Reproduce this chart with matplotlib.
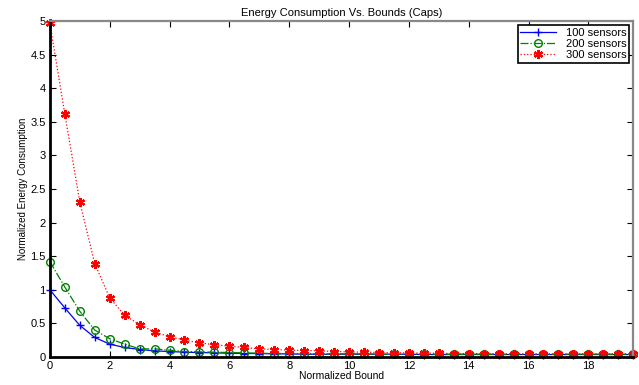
import numpy as np
import matplotlib
matplotlib.use("Agg")
import matplotlib.pyplot as plt

plt.rcParams['font.family'] = ['Liberation Sans', 'DejaVu Sans']

# datos
bound = np.arange(0, 20, 0.5)
e100 = [1.00, 0.73, 0.47, 0.29, 0.19, 0.14, 0.11, 0.09, 0.08, 0.07,
        0.065, 0.06, 0.055, 0.05, 0.05, 0.045, 0.045, 0.04, 0.04, 0.04,
        0.04, 0.04, 0.04, 0.04, 0.04, 0.035, 0.035, 0.035, 0.035, 0.035,
        0.035, 0.035, 0.035, 0.035, 0.035, 0.035, 0.035, 0.035, 0.035, 0.035]
e200 = [1.42, 1.04, 0.68, 0.40, 0.27, 0.19, 0.12, 0.12, 0.10, 0.08,
        0.075, 0.07, 0.065, 0.06, 0.055, 0.05, 0.05, 0.05, 0.045, 0.045,
        0.045, 0.045, 0.04, 0.04, 0.04, 0.04, 0.04, 0.04, 0.04, 0.04,
        0.04, 0.04, 0.04, 0.04, 0.04, 0.04, 0.04, 0.04, 0.04, 0.04]
e300 = [4.97, 3.62, 2.31, 1.39, 0.88, 0.62, 0.48, 0.37, 0.30, 0.25,
        0.21, 0.18, 0.16, 0.14, 0.12, 0.11, 0.10, 0.095, 0.09, 0.08,
        0.075, 0.07, 0.065, 0.06, 0.06, 0.055, 0.055, 0.05, 0.05, 0.05,
        0.045, 0.045, 0.045, 0.045, 0.045, 0.045, 0.045, 0.045, 0.045, 0.045]
etiquetas = ["100 sensors", "200 sensors", "300 sensors"]

fig = plt.figure(figsize=(6.39, 3.85), dpi=100)
ax = fig.add_axes([0.078, 0.073, 0.913, 0.872])

ax.plot(bound, e100, 'b-+', lw=0.9, ms=6, mew=1.0, label=etiquetas[0], clip_on=False)
ax.plot(bound, e200, color='#008000', ls='-.', marker='o', mfc='none', lw=0.9,
        ms=5.5, mew=1.0, label=etiquetas[1], clip_on=False)
ax.plot(bound, e300, color='red', ls=':', marker=(6, 2, 0), lw=0.9, ms=6.5, mew=1.6,
        label=etiquetas[2], clip_on=False)

ax.set_xlim(0, 19.5)
ax.set_ylim(0, 5)
ax.set_xticks(np.arange(0, 19, 2))
ax.set_yticks(np.arange(0, 5.01, 0.5))
ax.set_yticklabels(["0", "0.5", "1", "1.5", "2", "2.5", "3", "3.5", "4", "4.5", "5"])
ax.tick_params(direction='in', length=4, width=0.8, labelsize=8,
               top=True, right=True, pad=3)

for s in ['left', 'bottom']:
    ax.spines[s].set_linewidth(2.0)
    ax.spines[s].set_color('black')
for s in ['top', 'right']:
    ax.spines[s].set_linewidth(1.6)
    ax.spines[s].set_color('#888888')

ax.set_title("Energy Consumption Vs. Bounds (Caps)", fontsize=8, pad=4)
ax.set_xlabel("Normalized Bound", fontsize=7.5, labelpad=0)
ax.set_ylabel("Normalized Energy Consumption", fontsize=7, labelpad=2)

leg = ax.legend(loc='upper right', fontsize=8, fancybox=False, framealpha=1,
                edgecolor='black', handlelength=3.2, handletextpad=0.9,
                borderpad=0.25, labelspacing=0.1, borderaxespad=0.35)
leg.get_frame().set_linewidth(1.2)

fig.savefig("out.png", dpi=100)
